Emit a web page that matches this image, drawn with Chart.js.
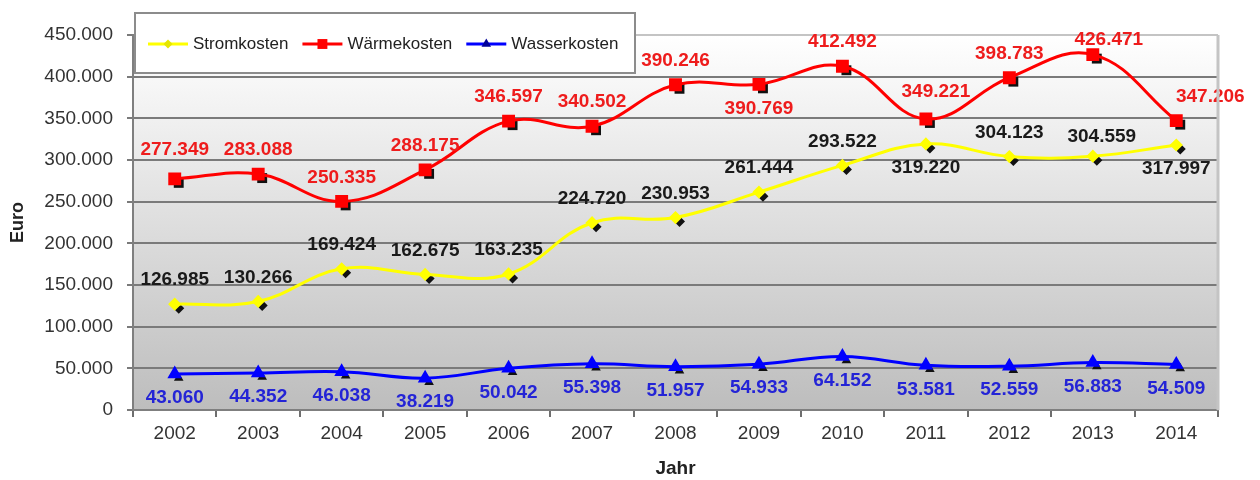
<!DOCTYPE html>
<html lang="de">
<head>
<meta charset="utf-8">
<title>Energiekosten 2002-2014</title>
<script src="https://cdn.jsdelivr.net/npm/chart.js@4.4.1/dist/chart.umd.min.js"></script>
<style>
  html, body { margin: 0; padding: 0; background: #fff; }
  #wrap { width: 1260px; height: 480px; }
</style>
</head>
<body>
<div id="wrap"><canvas id="chart" width="1260" height="480"></canvas></div>
<script>
// Data
const years = ['2002', '2003', '2004', '2005', '2006', '2007', '2008', '2009', '2010', '2011', '2012', '2013', '2014'];
const stromkosten = [126985, 130266, 169424, 162675, 163235, 224720, 230953, 261444, 293522, 319220, 304123, 304559, 317997];
const waermekosten = [277349, 283088, 250335, 288175, 346597, 340502, 390246, 390769, 412492, 349221, 398783, 426471, 347206];
const wasserkosten = [43060, 44352, 46038, 38219, 50042, 55398, 51957, 54933, 64152, 53581, 52559, 56883, 54509];
const yTicks = [0, 50000, 100000, 150000, 200000, 250000, 300000, 350000, 400000, 450000];

// Label side per point: 1 = above, -1 = below
const stromLabelSide = [1, 1, 1, 1, 1, 1, 1, 1, 1, -1, 1, 1, -1];
const waermeLabelSide = [1, 1, 1, 1, 1, 1, 1, -1, 1, 1, 1, 1, 1];
const wasserLabelSide = [-1, -1, -1, -1, -1, -1, -1, -1, -1, -1, -1, -1, -1];

const FONT = '"Liberation Sans", Arial, sans-serif';

function formatDE(v) {
  return String(v).replace(/\B(?=(\d{3})+(?!\d))/g, '.');
}

// Simple marker shapes for shadows and the legend
function drawMarker(ctx, style, x, y, r) {
  ctx.beginPath();
  if (style === 'rect') {
    const s = r * Math.SQRT1_2;
    ctx.rect(x - s, y - s, 2 * s, 2 * s);
  } else if (style === 'rectRot') {
    ctx.moveTo(x, y - r);
    ctx.lineTo(x + r, y);
    ctx.lineTo(x, y + r);
    ctx.lineTo(x - r, y);
    ctx.closePath();
  } else {
    ctx.moveTo(x, y - r);
    ctx.lineTo(x + r * 0.87, y + r * 0.5);
    ctx.lineTo(x - r * 0.87, y + r * 0.5);
    ctx.closePath();
  }
  ctx.fill();
}

// Plot background gradient and light outer border
const plotBackground = {
  id: 'plotBackground',
  beforeDraw(chart) {
    const { ctx, chartArea: a } = chart;
    const g = ctx.createLinearGradient(0, a.top, 0, a.bottom);
    g.addColorStop(0, '#ffffff');
    g.addColorStop(1, '#bdbdbd');
    ctx.save();
    ctx.fillStyle = g;
    ctx.fillRect(a.left, a.top, a.right - a.left, a.bottom - a.top);
    ctx.restore();
  },
  afterDraw(chart) {
    const { ctx, chartArea: a } = chart;
    ctx.save();
    ctx.strokeStyle = '#c4c4c4';
    ctx.lineWidth = 3;
    ctx.beginPath();
    ctx.moveTo(a.right, a.bottom);
    ctx.lineTo(a.right, a.top);
    ctx.stroke();
    ctx.restore();
  }
};

// Black drop shadows behind the markers
const markerShadow = {
  id: 'markerShadow',
  beforeDatasetsDraw(chart) {
    const ctx = chart.ctx;
    ctx.save();
    ctx.fillStyle = '#111111';
    chart.data.datasets.forEach((ds, i) => {
      chart.getDatasetMeta(i).data.forEach(pt => {
        drawMarker(ctx, ds.pointStyle, pt.x + 4, pt.y + 4, ds.shadowRadius);
      });
    });
    ctx.restore();
  }
};

// Value labels
const valueLabels = {
  id: 'valueLabels',
  afterDatasetsDraw(chart, args, opts) {
    const ctx = chart.ctx;
    ctx.save();
    ctx.font = 'bold 19px ' + FONT;
    ctx.textAlign = 'center';
    ctx.textBaseline = 'middle';
    chart.data.datasets.forEach((ds, i) => {
      const nudge = opts.nudge[i] || {};
      ctx.fillStyle = ds.labelColor;
      chart.getDatasetMeta(i).data.forEach((pt, j) => {
        const [dx, dy] = nudge[j] || [0, 0];
        const y = pt.y - ds.labelSide[j] * opts.distance + dy;
        ctx.fillText(formatDE(ds.data[j]), pt.x + dx, y);
      });
    });
    ctx.restore();
  }
};

// Boxed legend sitting on the plot
const boxLegend = {
  id: 'boxLegend',
  afterDraw(chart) {
    const ctx = chart.ctx;
    ctx.save();
    ctx.fillStyle = '#ffffff';
    ctx.fillRect(135, 13, 500, 60);
    ctx.strokeStyle = '#8c8c8c';
    ctx.lineWidth = 2;
    ctx.strokeRect(135, 13, 500, 60);
    ctx.font = '17px ' + FONT;
    ctx.textBaseline = 'middle';
    let x = 148;
    const y = 44;
    chart.data.datasets.forEach(ds => {
      ctx.strokeStyle = ds.borderColor;
      ctx.lineWidth = 3;
      ctx.beginPath();
      ctx.moveTo(x, y);
      ctx.lineTo(x + 40, y);
      ctx.stroke();
      ctx.fillStyle = ds.legendMarker;
      drawMarker(ctx, ds.pointStyle, x + 20, y, ds.pointRadius);
      ctx.fillStyle = '#222222';
      ctx.fillText(ds.label, x + 45, y);
      x += 45 + ctx.measureText(ds.label).width + 14;
    });
    ctx.restore();
  }
};

const ctx = document.getElementById('chart');

new Chart(ctx, {
  type: 'line',
  data: {
    labels: years,
    datasets: [
      {
        label: 'Stromkosten',
        data: stromkosten,
        borderColor: '#ffff00',
        backgroundColor: '#ffff00',
        pointBackgroundColor: '#ffff00',
        pointBorderColor: '#ffff00',
        pointStyle: 'rectRot',
        pointRadius: 4.5,
        shadowRadius: 5.5,
        legendMarker: '#e6e600',
        labelColor: '#1a1a1a',
        labelSide: stromLabelSide,
        borderWidth: 3,
        tension: 0.4
      },
      {
        label: 'Wärmekosten',
        data: waermekosten,
        borderColor: '#ff0000',
        backgroundColor: '#ff0000',
        pointBackgroundColor: '#ff0000',
        pointBorderColor: '#ff0000',
        pointStyle: 'rect',
        pointRadius: 7,
        shadowRadius: 7,
        legendMarker: '#ff0000',
        labelColor: '#ee1c1c',
        labelSide: waermeLabelSide,
        borderWidth: 3,
        tension: 0.4
      },
      {
        label: 'Wasserkosten',
        data: wasserkosten,
        borderColor: '#0000ff',
        backgroundColor: '#0000ff',
        pointBackgroundColor: '#0000ff',
        pointBorderColor: '#0000ff',
        pointStyle: 'triangle',
        pointRadius: 5.5,
        shadowRadius: 5.5,
        legendMarker: '#000099',
        labelColor: '#2424d6',
        labelSide: wasserLabelSide,
        borderWidth: 3,
        tension: 0.4
      }
    ]
  },
  options: {
    responsive: false,
    animation: false,
    layout: { padding: { top: 35, right: 42, left: 0, bottom: 0 } },
    plugins: {
      legend: { display: false },
      tooltip: { enabled: false },
      valueLabels: {
        distance: 24,
        nudge: {
          0: { 11: [9, 5] },
          1: { 0: [0, -5], 9: [10, -3], 11: [16, 9], 12: [34, 0] }
        }
      }
    },
    scales: {
      x: {
        offset: true,
        grid: { offset: true, drawOnChartArea: false, drawTicks: true, tickLength: 7, color: '#6e6e6e', lineWidth: 2 },
        border: { color: '#7f7f7f', width: 2 },
        ticks: { color: '#333333', font: { family: FONT, size: 19 }, padding: 5, maxRotation: 0 },
        title: { display: true, text: 'Jahr', color: '#222222', font: { family: FONT, size: 19, weight: 'bold' }, padding: { top: 0, bottom: 0 } },
        afterFit(scale) { scale.height = 70; }
      },
      y: {
        min: 0,
        max: 450000,
        afterBuildTicks(scale) { scale.ticks = yTicks.map(v => ({ value: v })); },
        grid: {
          drawTicks: true,
          tickLength: 6,
          color: c => c.tick && c.tick.value === 450000 ? '#c4c4c4' : '#7a7a7a',
          tickColor: '#7a7a7a',
          lineWidth: 2
        },
        border: { color: '#7f7f7f', width: 2 },
        ticks: { color: '#333333', font: { family: FONT, size: 19 }, padding: 14, callback: v => formatDE(v) },
        title: { display: true, text: 'Euro', color: '#222222', font: { family: FONT, size: 18, weight: 'bold' }, padding: { top: 7, bottom: 0 } },
        afterFit(scale) { scale.width = 133; }
      }
    }
  },
  plugins: [plotBackground, markerShadow, valueLabels, boxLegend]
});
</script>
</body>
</html>
